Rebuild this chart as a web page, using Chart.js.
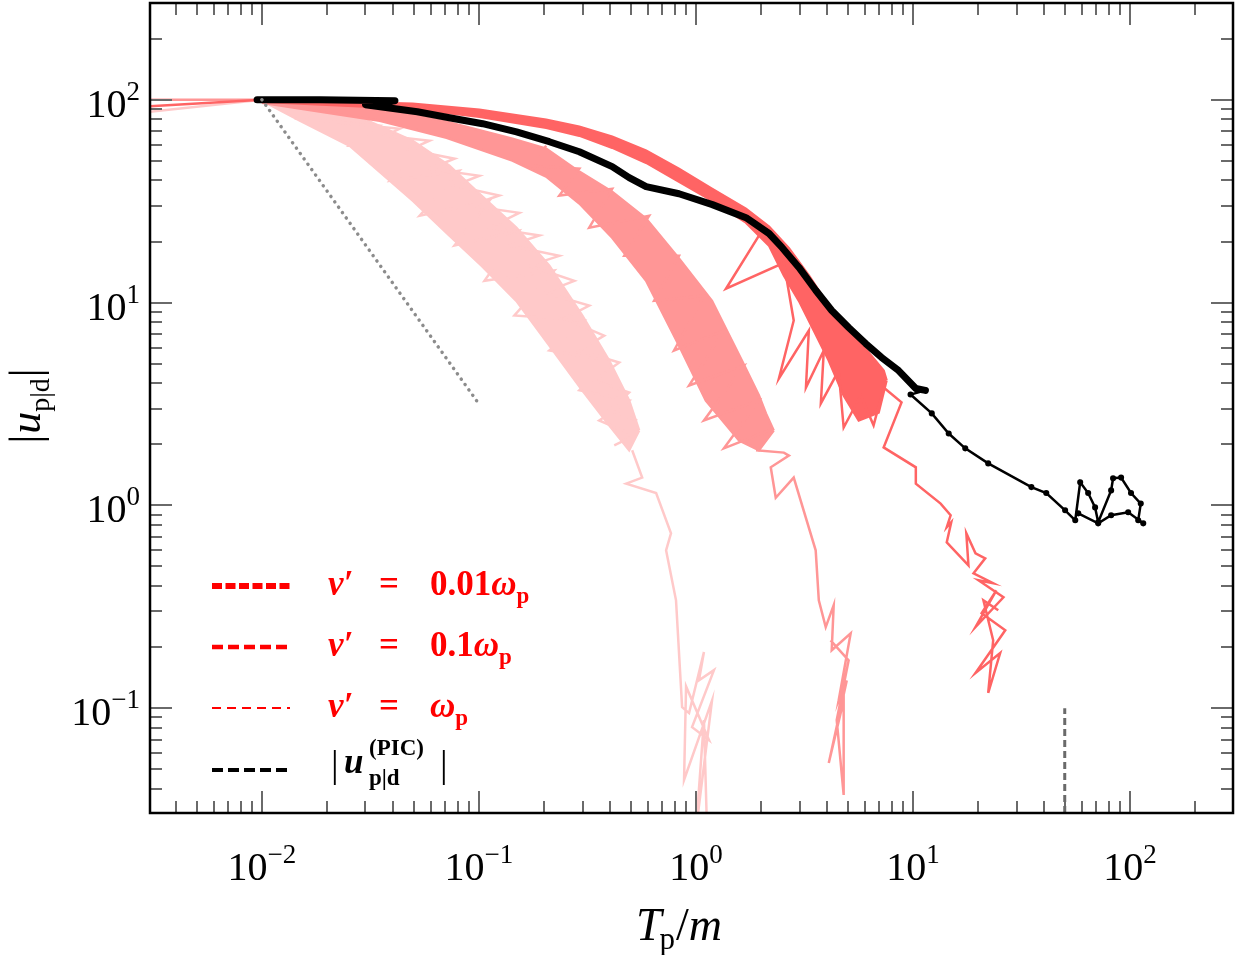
<!DOCTYPE html>
<html>
<head>
<meta charset="utf-8">
<title>|u_p|d| vs T_p/m</title>
<style>
  body { margin: 0; padding: 0; background: #fff; }
  #wrap { width: 1236px; height: 955px; }
</style>
<script src="https://cdn.jsdelivr.net/npm/chart.js"></script>
</head>
<body>
<div id="wrap"><canvas id="chart" width="1236" height="955"></canvas></div>
<script>
// ---- data, T = T_p/m, U = |u_p|d| ----
// nu' = 0.01 omega_p
var aHeadT = [0.00275, 0.01];
var aHeadU = [92.4, 100];
var aTopT = [0.01, 0.0495, 0.1005, 0.204, 0.290, 0.411, 0.589, 0.835, 1.185, 1.698, 2.17, 2.68, 3.31, 4.09, 5.05, 6.24, 7.32, 7.55];
var aTopU = [100, 95.5, 89.3, 79.6, 73.6, 65.8, 56.1, 45.7, 36.4, 29.0, 23.7, 18.5, 13.6, 9.66, 7.28, 5.67, 4.62, 4.13];
var aBotT = [0.01, 0.0495, 0.1005, 0.204, 0.290, 0.411, 0.589, 0.835, 1.185, 1.698, 2.17, 2.54, 2.98, 3.49, 4.09, 4.79, 5.62, 6.94, 7.55];
var aBotU = [97.7, 90.3, 82.4, 72.8, 66.5, 58.0, 48.9, 39.4, 31.8, 24.8, 19.1, 13.6, 10.2, 7.28, 5.18, 3.48, 2.62, 2.87, 4.13];
var aTailT = [1.95, 1.374, 2.54, 2.82, 2.41, 3.31, 3.21, 3.88, 3.76, 4.54, 4.79, 5.74, 6.58, 7.32, 8.85, 7.32, 10.3, 10.3, 13.4, 14.9, 14.3, 15.0, 14.3, 18.0,
              17.6, 19.4, 21.5, 19.0, 23.4, 20.0, 26.1, 19.4, 24.2, 20.7, 26.6, 19.4, 25.2, 22.2, 23.4, 21.1, 24.7];
var aTailU = [21.4, 11.7, 15.7, 8.15, 4.22, 7.28, 3.81, 5.80, 3.18, 4.62, 2.42, 3.48, 2.48, 3.81, 3.22, 1.93, 1.54, 1.28, 1.02, 0.893, 0.779, 0.825, 0.657, 0.506,
              0.728, 0.580, 0.548, 0.462, 0.413, 0.427, 0.352, 0.251, 0.381, 0.294, 0.242, 0.149, 0.187, 0.119, 0.216, 0.340, 0.304];

// nu' = 0.1 omega_p
var bHeadT = [0.00275, 0.01];
var bHeadU = [100, 100];
var bTopT = [0.01, 0.0349, 0.0709, 0.1426, 0.204, 0.290, 0.411, 0.589, 0.835, 1.185, 1.627, 1.95, 2.10, 2.28];
var bTopU = [100, 90.3, 77.9, 64.3, 57.4, 44.2, 35.2, 25.9, 16.5, 10.2, 5.18, 3.48, 2.84, 2.34];
var bBotT = [0.01, 0.0349, 0.0709, 0.1426, 0.204, 0.290, 0.411, 0.589, 0.835, 1.11, 1.58, 1.95, 2.28];
var bBotU = [96.6, 78.8, 65.0, 50.1, 41.8, 30.8, 20.9, 12.8, 6.14, 3.29, 2.09, 1.87, 2.34];
var bJagT = [0.204, 0.1706, 0.290, 0.2345, 0.411, 0.322, 0.608, 0.467, 0.835, 0.641, 1.088, 0.792, 1.345, 0.929, 1.663, 1.088, 1.95, 1.345, 2.17];
var bJagU = [59.3, 47.3, 45.7, 33.7, 36.4, 23.4, 26.8, 17.0, 17.0, 10.2, 10.8, 5.80, 7.28, 3.90, 4.89, 2.62, 3.29, 1.91, 2.34];
var bTailT = [1.89, 2.54, 2.68, 2.21, 2.33, 2.82, 3.56, 3.68, 3.96, 4.31, 4.22, 5.16, 4.54, 4.95, 4.09, 4.79, 4.79, 4.45, 5.05, 4.17];
var bTailU = [1.87, 1.82, 1.76, 1.54, 1.09, 1.37, 0.600, 0.340, 0.251, 0.322, 0.193, 0.234, 0.109, 0.137, 0.0536, 0.109, 0.0373, 0.0873, 0.172, 0.216];

// nu' = omega_p
var cHeadT = [0.00275, 0.01];
var cHeadU = [86.3, 100];
var cTopT = [0.01, 0.01496, 0.0254, 0.0495, 0.0731, 0.1027, 0.1486, 0.211, 0.299, 0.398, 0.492, 0.547];
var cTopU = [100, 96.6, 86.3, 62.8, 47.3, 33.7, 23.4, 15.2, 8.63, 5.18, 3.29, 2.34];
var cBotT = [0.01, 0.01496, 0.0254, 0.0495, 0.0731, 0.1027, 0.1486, 0.211, 0.299, 0.398, 0.492, 0.547];
var cBotU = [98.9, 78.8, 59.3, 31.8, 21.4, 15.2, 10.2, 6.14, 3.69, 2.48, 1.87, 2.34];
var cJagT = [0.0205, 0.01496, 0.0349, 0.0254, 0.0533, 0.0388, 0.0813, 0.0533, 0.1117, 0.0771, 0.1535, 0.106, 0.2224, 0.1456, 0.3055, 0.211, 0.398, 0.290, 0.492, 0.358, 0.519, 0.420];
var cJagU = [90.3, 80.6, 74.5, 59.3, 59.3, 39.9, 44.7, 26.8, 31.8, 19.1, 22.6, 12.8, 14.4, 8.63, 8.15, 5.80, 5.18, 3.69, 3.29, 2.62, 2.21, 1.975];
var cStreakT = [0.0205, 0.0268, 0.0228, 0.0431, 0.0368, 0.0592, 0.0479, 0.0772, 0.0592, 0.1005, 0.0772, 0.124, 0.0905, 0.1535, 0.1117, 0.190, 0.138,
                0.2345, 0.1706, 0.275, 0.200, 0.322, 0.247, 0.3775, 0.290, 0.4426, 0.340, 0.492, 0.398, 0.536];
var cStreakU = [86.3, 85.3, 77.1, 71.9, 66.5, 62.8, 56.7, 51.2, 45.7, 42.2, 37.7, 33.7, 30.0, 27.7, 23.4, 21.4, 19.1,
                17.0, 15.2, 12.8, 11.2, 9.66, 8.34, 6.87, 5.80, 5.06, 4.13, 3.60, 2.94, 2.62];
var cTailT = [0.508, 0.565, 0.477, 0.655, 0.767, 0.728, 0.809, 0.863, 0.929, 1.088, 1.032, 1.21, 0.959, 1.148, 0.900, 0.881, 1.185, 1.0, 1.088, 1.124];
var cTailU = [1.87, 1.37, 1.28, 1.15, 0.728, 0.600, 0.340, 0.101, 0.0945, 0.189, 0.137, 0.154, 0.0806, 0.0696, 0.128, 0.0442, 0.109, 0.0251, 0.0873, 0.0251];

// |u_p|d^(PIC)|
var picThickT = [0.0095, 0.0185, 0.041, 0.030, 0.052, 0.073, 0.104, 0.149, 0.211, 0.290, 0.411, 0.492, 0.589, 0.835, 1.19, 1.70, 2.17, 2.49, 2.98, 3.56, 4.22, 5.05, 6.05, 7.16, 8.58, 10.3, 11.4];
var picThickU = [100, 100, 98.9, 94.4, 87.3, 81.5, 76.2, 69.5, 62.1, 55.4, 46.8, 41.3, 37.3, 34.4, 30.4, 26.2, 21.9, 18.7, 14.9, 11.5, 9.14, 7.53, 6.28, 5.36, 4.62, 3.77, 3.69];
var picThinT = [11.4, 9.74, 12.2, 14.6, 17.4, 22.2, 35.1, 41.1, 50.2, 55.9, 58.9, 64.1, 69.0, 71.3, 81.8, 83.5, 90.9, 101, 112, 109, 115, 98, 81.8, 71.3, 57.7];
var picThinU = [3.69, 3.52, 2.84, 2.26, 1.91, 1.61, 1.23, 1.15, 0.945, 0.844, 1.30, 1.15, 0.977, 0.825, 1.185, 1.36, 1.37, 1.15, 1.02, 0.844, 0.815, 0.924, 0.893, 0.815, 0.913];

// guide lines
var guideT = [0.01, 0.1];
var guideU = [100, 3.16];
var markT = [50, 50];
var markU = [0.0304, 0.1];

// axes
var xMin = 0.00305, xMax = 298;
var yMin = 0.0304, yMax = 300;
var xTickPowers = [-2, -1, 0, 1, 2];
var yTickPowers = [-1, 0, 1, 2];

var colA = '#ff6464';
var colB = '#ff9696';
var colC = '#ffc9c9';

function pts(t, u) {
  return t.map(function (v, i) { return { x: v, y: u[i] }; });
}

function curve(t, u, color, width, more) {
  var d = {
    data: pts(t, u),
    borderColor: color,
    backgroundColor: color,
    borderWidth: width,
    pointRadius: 0,
    tension: 0,
    fill: false,
    clip: 0
  };
  for (var k in more) d[k] = more[k];
  return d;
}

// draw a row of text pieces with different fonts / offsets
function drawRuns(ctx, x, y, runs) {
  runs.forEach(function (r) {
    ctx.font = r.f;
    x += (r.dx || 0);
    ctx.fillText(r.t, x, y + (r.dy || 0));
    x += ctx.measureText(r.t).width;
  });
  return x;
}
function runsWidth(ctx, runs) {
  var w = 0;
  runs.forEach(function (r) { ctx.font = r.f; w += (r.dx || 0) + ctx.measureText(r.t).width; });
  return w;
}
function expText(p) {
  return p < 0 ? '\u2212' + Math.abs(p) : String(p);
}

var SERIF = '"Liberation Serif", "DejaVu Serif", serif';

var deco = {
  id: 'deco',
  afterDraw: function (chart) {
    var ctx = chart.ctx, a = chart.chartArea;
    var xs = chart.scales.x, ys = chart.scales.y;
    ctx.save();

    // inward ticks on all four sides
    ctx.strokeStyle = '#6a6a6a';
    ctx.lineWidth = 2;
    ctx.beginPath();
    for (var k = -3; k <= 2; k++) {
      for (var m = 1; m < 10; m++) {
        var v = m * Math.pow(10, k);
        var len = m === 1 ? 22 : 12;
        if (v > xMin && v < xMax) {
          var px = Math.round(xs.getPixelForValue(v));
          ctx.moveTo(px, a.bottom); ctx.lineTo(px, a.bottom - len);
          ctx.moveTo(px, a.top); ctx.lineTo(px, a.top + len);
        }
        if (v > yMin && v < yMax) {
          var py = Math.round(ys.getPixelForValue(v));
          ctx.moveTo(a.left, py); ctx.lineTo(a.left + len, py);
          ctx.moveTo(a.right, py); ctx.lineTo(a.right - len, py);
        }
      }
    }
    ctx.stroke();

    ctx.strokeStyle = '#000';
    ctx.lineWidth = 2.5;
    ctx.strokeRect(a.left, a.top, a.right - a.left, a.bottom - a.top);

    // tick labels 10^k
    ctx.fillStyle = '#000';
    ctx.textBaseline = 'alphabetic';
    ctx.textAlign = 'left';
    xTickPowers.forEach(function (p) {
      var runs = [{ t: '10', f: '40px ' + SERIF }, { t: expText(p), f: '27px ' + SERIF, dy: -17 }];
      var w = runsWidth(ctx, runs);
      drawRuns(ctx, xs.getPixelForValue(Math.pow(10, p)) - w / 2, a.bottom + 67, runs);
    });
    yTickPowers.forEach(function (p) {
      var runs = [{ t: '10', f: '40px ' + SERIF }, { t: expText(p), f: '27px ' + SERIF, dy: -17 }];
      var w = runsWidth(ctx, runs);
      drawRuns(ctx, a.left - 10 - w, ys.getPixelForValue(Math.pow(10, p)) + 17, runs);
    });

    // axis titles
    drawRuns(ctx, 636, 940, [
      { t: 'T', f: 'italic 46px ' + SERIF },
      { t: 'p', f: '31px ' + SERIF, dy: 9, dx: -2 },
      { t: '/', f: '46px ' + SERIF, dx: 1 },
      { t: 'm', f: 'italic 46px ' + SERIF }
    ]);
    ctx.save();
    ctx.translate(40, 406);
    ctx.rotate(-Math.PI / 2);
    var yRuns = [
      { t: '|', f: '44px ' + SERIF },
      { t: 'u', f: 'italic 44px ' + SERIF, dx: 1 },
      { t: 'p|d', f: '28px ' + SERIF, dy: 9 },
      { t: '|', f: '44px ' + SERIF, dx: 1 }
    ];
    drawRuns(ctx, -runsWidth(ctx, yRuns) / 2, 0, yRuns);
    ctx.restore();

    // legend
    var rows = [
      { y: 586, color: '#ff0000', w: 6, dash: [10, 3.5] },
      { y: 647, color: '#ff0000', w: 4.5, dash: [11, 5] },
      { y: 708, color: '#ff0000', w: 2, dash: [9, 6] },
      { y: 770, color: '#000000', w: 4, dash: [11, 5] }
    ];
    rows.forEach(function (r) {
      ctx.strokeStyle = r.color;
      ctx.lineWidth = r.w;
      ctx.setLineDash(r.dash);
      ctx.beginPath();
      ctx.moveTo(212, r.y); ctx.lineTo(290, r.y);
      ctx.stroke();
    });
    ctx.setLineDash([]);

    var big = 'bold 35px ' + SERIF, bigI = 'italic bold 35px ' + SERIF, sub = 'bold 23px ' + SERIF;
    ctx.fillStyle = '#ff0000';
    var nuVals = [['0.01', 595], ['0.1', 656], ['', 717]];
    nuVals.forEach(function (n) {
      drawRuns(ctx, 328, n[1], [{ t: '\u03bd\u2032', f: bigI }]);
      drawRuns(ctx, 379, n[1], [{ t: '=', f: big }]);
      drawRuns(ctx, 430, n[1], [{ t: n[0], f: big }, { t: '\u03c9', f: bigI }, { t: 'p', f: sub, dy: 8 }]);
    });
    ctx.fillStyle = '#000';
    drawRuns(ctx, 331, 777, [{ t: '|', f: '38px ' + SERIF }]);
    drawRuns(ctx, 344, 773, [{ t: 'u', f: bigI }]);
    drawRuns(ctx, 369, 755, [{ t: '(PIC)', f: sub }]);
    drawRuns(ctx, 369, 785, [{ t: 'p|d', f: sub }]);
    drawRuns(ctx, 440, 777, [{ t: '|', f: '38px ' + SERIF }]);

    ctx.restore();
  }
};

new Chart(document.getElementById('chart'), {
  type: 'line',
  data: {
    datasets: [
      curve(guideT, guideU, '#8c8c8c', 3.5, { borderDash: [0.1, 6.5], borderCapStyle: 'round' }),
      curve(markT, markU, '#6a6a6a', 3, { borderDash: [7, 4] }),
      curve(picThinT, picThinU, '#000', 2.5, { pointRadius: 1.8 }),
      curve(picThickT, picThickU, '#000', 7, { borderJoinStyle: 'round', borderCapStyle: 'round' }),
      curve(aTailT, aTailU, colA, 2.5),
      curve(aTopT, aTopU, colA, 2.5),
      curve(aBotT, aBotU, colA, 2.5, { fill: '-1' }),
      curve(aHeadT, aHeadU, colA, 2.5),
      curve(bJagT, bJagU, colB, 2.5),
      curve(bTailT, bTailU, colB, 2.5),
      curve(bTopT, bTopU, colB, 2.5),
      curve(bBotT, bBotU, colB, 2.5, { fill: '-1' }),
      curve(bHeadT, bHeadU, colB, 2.5),
      curve(cStreakT, cStreakU, colC, 2.5),
      curve(cJagT, cJagU, colC, 2.5),
      curve(cTailT, cTailU, colC, 2.5),
      curve(cTopT, cTopU, colC, 2.5),
      curve(cBotT, cBotU, colC, 2.5, { fill: '-1' }),
      curve(cHeadT, cHeadU, colC, 2.5)
    ]
  },
  options: {
    responsive: false,
    animation: false,
    layout: { autoPadding: false, padding: { left: 150, top: 3, right: 3, bottom: 142 } },
    plugins: { legend: { display: false }, tooltip: { enabled: false } },
    scales: {
      x: { type: 'logarithmic', min: xMin, max: xMax, display: false },
      y: { type: 'logarithmic', min: yMin, max: yMax, display: false }
    }
  },
  plugins: [deco]
});
</script>
</body>
</html>
